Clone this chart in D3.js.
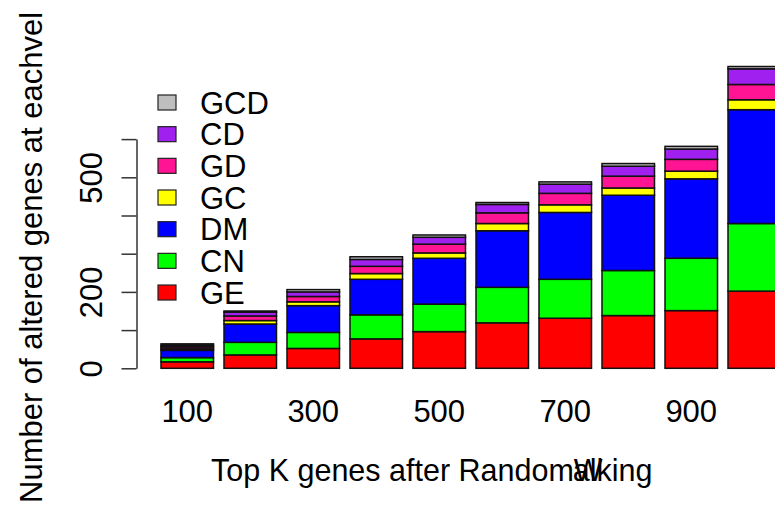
<!DOCTYPE html>
<html>
<head>
<meta charset="utf-8">
<script src="https://d3js.org/d3.v7.min.js"></script>
<style>
  body { margin: 0; background: #fff; }
  text { font-family: "Liberation Sans", Arial, Helvetica, sans-serif; fill: #000; }
</style>
</head>
<body>
<svg id="chart" width="775" height="527"></svg>
<script>
// top K genes after random walking
var categories = ["100","200","300","400","500","600","700","800","900","1000"];
var xLabels = ["100","300","500","700","900"];

// stacked from the bottom up
var series = ["GE","CN","DM","GC","GD","CD","GCD"];
var colors = ["#FF0000","#00FF00","#0000FF","#FFFF00","#FF1493","#A020F0","#BEBEBE"];

var GE  = [17, 35, 52, 77,  96, 119, 131, 138, 151, 202];
var CN  = [11, 33, 42, 63,  72,  93, 102, 118, 137, 177];
var DM  = [19, 48, 70, 93, 120, 148, 175, 197, 208, 298];
var GC  = [ 4,  9, 10, 15,  14,  19,  20,  19,  20,  26];
var GD  = [ 5, 12, 14, 19,  23,  28,  30,  31,  31,  40];
var CD  = [ 4, 10, 12, 18,  18,  22,  24,  26,  27,  41];
var GCD = [ 4,  3,  6,  7,   6,   5,   6,   7,   7,   6];

var yTicks = [0, 100, 200, 300, 400, 500, 600];
var yLabels = [0, 200, 500];

var values = {GE: GE, CN: CN, DM: DM, GC: GC, GD: GD, CD: CD, GCD: GCD};
var table = categories.map(function(c, i) {
  var row = {cat: c};
  series.forEach(function(s) { row[s] = values[s][i]; });
  return row;
});

var svg = d3.select("#chart");
var fs = 31;

var x = d3.scaleBand().domain(categories).range([161, 780.5]).paddingInner(1/6).paddingOuter(0);
var y = d3.scaleLinear().domain([0, 800]).range([368.3, 62.7]);
var color = d3.scaleOrdinal().domain(series).range(colors);

var stacked = d3.stack().keys(series)(table);

svg.append("g")
  .selectAll("g")
  .data(stacked)
  .enter()
  .append("g")
  .attr("fill", function(d) { return color(d.key); })
  .selectAll("rect")
  .data(function(d) { return d; })
  .enter()
  .append("rect")
  .attr("x", function(d) { return x(d.data.cat); })
  .attr("y", function(d) { return y(d[1]); })
  .attr("width", x.bandwidth())
  .attr("height", function(d) { return y(d[0]) - y(d[1]); })
  .attr("stroke", "#111")
  .attr("stroke-width", 1.5);

// y axis, only some labels are printed
var yAxisScale = y.copy().domain([0, 600]).range([y(0), y(600)]);
var yAxis = svg.append("g")
  .attr("transform", "translate(136.5,0)")
  .call(d3.axisLeft(yAxisScale).tickValues(yTicks).tickSize(15).tickSizeOuter(0)
    .tickFormat(function(d) { return yLabels.indexOf(d) >= 0 ? d : ""; }));
yAxis.select(".domain").attr("stroke", "#333").attr("stroke-width", 1.5);
yAxis.selectAll(".tick line").attr("stroke", "#333").attr("stroke-width", 1.5);
yAxis.selectAll(".tick text")
  .attr("transform", "rotate(-90)")
  .attr("x", 0)
  .attr("y", -35)
  .attr("dy", 0)
  .attr("text-anchor", "middle")
  .style("font-size", fs + "px")
  .style("font-family", "'Liberation Sans', Arial, sans-serif")
  .attr("fill", "#000");

// x labels under every other bar
svg.append("g")
  .selectAll("text")
  .data(xLabels)
  .enter()
  .append("text")
  .attr("x", function(d) { return x(d) + x.bandwidth() / 2; })
  .attr("y", 421.5)
  .attr("text-anchor", "middle")
  .style("font-size", fs + "px")
  .text(function(d) { return d; });

// legend
var legendKeys = series.slice().reverse();
var legend = svg.append("g")
  .selectAll("g")
  .data(legendKeys)
  .enter()
  .append("g")
  .attr("transform", function(d, i) { return "translate(158," + (102.5 + i * 31.67) + ")"; });
legend.append("rect")
  .attr("x", 0).attr("y", -7.5)
  .attr("width", 18).attr("height", 15)
  .attr("fill", function(d) { return color(d); })
  .attr("stroke", "#222").attr("stroke-width", 1.2);
legend.append("text")
  .attr("x", 42)
  .attr("dy", "0.36em")
  .style("font-size", fs + "px")
  .text(function(d) { return d; });

// axis titles (the original has glyphs that collide in both)
var xt = svg.append("text")
  .attr("x", 211)
  .attr("y", 481)
  .style("font-size", "30.5px");
xt.append("tspan").text("Top K genes after Random");
xt.append("tspan").text("W");
xt.append("tspan").attr("dx", "-0.944em").text("alking");

var yt = svg.append("text")
  .attr("transform", "translate(42,503) rotate(-90)")
  .style("font-size", fs + "px");
yt.append("tspan").text("Number of altered genes at each");
yt.append("tspan").attr("fill-opacity", 0).text(" le");
yt.append("tspan").attr("dx", "-1.056em").text("vel");
</script>
</body>
</html>
